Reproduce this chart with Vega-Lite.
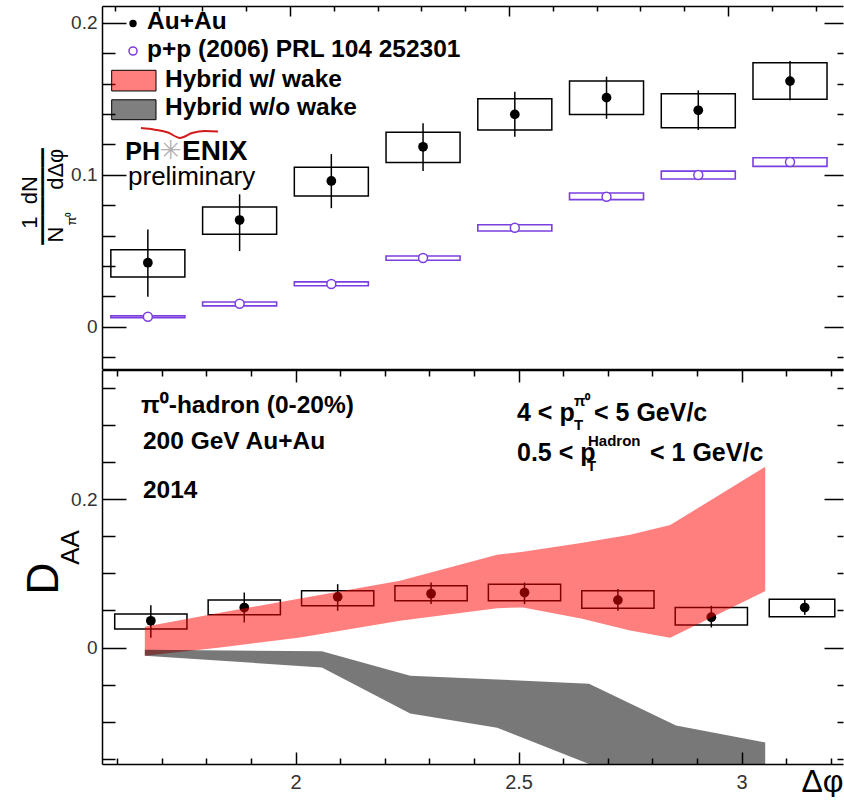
{
"$schema": "https://vega.github.io/schema/vega-lite/v6.json",
"padding": {"left": 18, "top": 5, "right": 0, "bottom": 0},
"spacing": 0,
"config": {
  "view": {"stroke": null},
  "axis": {"grid": false, "domainColor": "#000", "tickColor": "#000", "domainWidth": 1.5, "tickWidth": 1.5,
           "labelFont": "Liberation Sans", "labelFontSize": 19, "labelColor": "#333",
           "titleFont": "Liberation Sans", "titleColor": "#000", "titleFontWeight": "normal"}
},
"datasets": {
  "dummy": [{"x": 2, "y": 0}],
  "topAu": [
    {"x": 1.6755, "y": 0.0421, "elo": 0.0197, "ehi": 0.064, "blo": 0.0327, "bhi": 0.0507, "x1": 1.591, "x2": 1.76},
    {"x": 1.885, "y": 0.0702, "elo": 0.0498, "ehi": 0.0871, "blo": 0.0608, "bhi": 0.0788, "x1": 1.8005, "x2": 1.9695},
    {"x": 2.0944, "y": 0.0959, "elo": 0.078, "ehi": 0.1136, "blo": 0.086, "bhi": 0.105, "x1": 2.0099, "x2": 2.1789},
    {"x": 2.3038, "y": 0.1184, "elo": 0.1024, "ehi": 0.1338, "blo": 0.108, "bhi": 0.128, "x1": 2.2193, "x2": 2.3883},
    {"x": 2.5133, "y": 0.1397, "elo": 0.125, "ehi": 0.1546, "blo": 0.1294, "bhi": 0.15, "x1": 2.4288, "x2": 2.5978},
    {"x": 2.7227, "y": 0.1507, "elo": 0.1368, "ehi": 0.1645, "blo": 0.1397, "bhi": 0.1616, "x1": 2.6382, "x2": 2.8072},
    {"x": 2.9322, "y": 0.1424, "elo": 0.1294, "ehi": 0.1555, "blo": 0.1309, "bhi": 0.1533, "x1": 2.8477, "x2": 3.0167},
    {"x": 3.1416, "y": 0.1616, "elo": 0.149, "ehi": 0.1748, "blo": 0.1496, "bhi": 0.1737, "x1": 3.0571, "x2": 3.2261}
  ],
  "topPP": [
    {"x": 1.6755, "y": 0.0066, "blo": 0.006, "bhi": 0.0072, "x1": 1.591, "x2": 1.76},
    {"x": 1.885, "y": 0.0151, "blo": 0.0137, "bhi": 0.0163, "x1": 1.8005, "x2": 1.9695},
    {"x": 2.0944, "y": 0.0281, "blo": 0.027, "bhi": 0.0295, "x1": 2.0099, "x2": 2.1789},
    {"x": 2.3038, "y": 0.0452, "blo": 0.0437, "bhi": 0.0465, "x1": 2.2193, "x2": 2.3883},
    {"x": 2.5133, "y": 0.0651, "blo": 0.063, "bhi": 0.0671, "x1": 2.4288, "x2": 2.5978},
    {"x": 2.7227, "y": 0.0855, "blo": 0.0836, "bhi": 0.088, "x1": 2.6382, "x2": 2.8072},
    {"x": 2.9322, "y": 0.0998, "blo": 0.0972, "bhi": 0.1024, "x1": 2.8477, "x2": 3.0167},
    {"x": 3.1416, "y": 0.1084, "blo": 0.1055, "bhi": 0.1112, "x1": 3.0571, "x2": 3.2261}
  ],
  "botAu": [
    {"x": 1.6755, "y": 0.036, "elo": 0.013, "ehi": 0.057, "blo": 0.0248, "bhi": 0.045, "x1": 1.5945, "x2": 1.7565},
    {"x": 1.885, "y": 0.0539, "elo": 0.0337, "ehi": 0.0741, "blo": 0.044, "bhi": 0.0639, "x1": 1.804, "x2": 1.966},
    {"x": 2.0944, "y": 0.0683, "elo": 0.0495, "ehi": 0.0854, "blo": 0.0562, "bhi": 0.0764, "x1": 2.0134, "x2": 2.1754},
    {"x": 2.3038, "y": 0.0725, "elo": 0.0585, "ehi": 0.0876, "blo": 0.0629, "bhi": 0.0832, "x1": 2.2228, "x2": 2.3848},
    {"x": 2.5133, "y": 0.0741, "elo": 0.0585, "ehi": 0.0876, "blo": 0.0629, "bhi": 0.0854, "x1": 2.4323, "x2": 2.5943},
    {"x": 2.7227, "y": 0.0639, "elo": 0.0495, "ehi": 0.0787, "blo": 0.053, "bhi": 0.0764, "x1": 2.6417, "x2": 2.8037},
    {"x": 2.9322, "y": 0.0408, "elo": 0.027, "ehi": 0.0562, "blo": 0.0302, "bhi": 0.0539, "x1": 2.8512, "x2": 3.0132},
    {"x": 3.1416, "y": 0.0539, "elo": 0.044, "ehi": 0.064, "blo": 0.0414, "bhi": 0.0652, "x1": 3.062, "x2": 3.209}
  ],
  "red": [
    {"x": 1.662, "lo": -0.011, "hi": 0.028},
    {"x": 1.831, "lo": 0.0, "hi": 0.047},
    {"x": 2.01, "lo": 0.0135, "hi": 0.066},
    {"x": 2.234, "lo": 0.036, "hi": 0.09},
    {"x": 2.452, "lo": 0.053, "hi": 0.125},
    {"x": 2.51, "lo": 0.054, "hi": 0.129},
    {"x": 2.64, "lo": 0.039, "hi": 0.141},
    {"x": 2.75, "lo": 0.023, "hi": 0.152},
    {"x": 2.84, "lo": 0.013, "hi": 0.165},
    {"x": 3.053, "lo": 0.076, "hi": 0.2435}
  ],
  "gray": [
    {"x": 1.662, "lo": -0.011, "hi": -0.003},
    {"x": 2.059, "lo": -0.027, "hi": -0.005},
    {"x": 2.257, "lo": -0.089, "hi": -0.038},
    {"x": 2.452, "lo": -0.108, "hi": -0.043},
    {"x": 2.658, "lo": -0.157, "hi": -0.049},
    {"x": 2.853, "lo": -0.21, "hi": -0.105},
    {"x": 3.053, "lo": -0.25, "hi": -0.128}
  ],
  "legText": [
    {"x": 1.6735, "y": 0.2005, "t": "Au+Au"},
    {"x": 1.6735, "y": 0.182, "t": "p+p (2006) PRL 104 252301"},
    {"x": 1.7146, "y": 0.1623, "t": "Hybrid w/ wake"},
    {"x": 1.7146, "y": 0.1439, "t": "Hybrid w/o wake"}
  ],
  "arc": [
    {"x": 1.6598, "y": 0.1307, "o": 1},
    {"x": 1.6918, "y": 0.1296, "o": 2},
    {"x": 1.7215, "y": 0.1278, "o": 3},
    {"x": 1.7489, "y": 0.1242, "o": 4},
    {"x": 1.7763, "y": 0.1274, "o": 5},
    {"x": 1.806, "y": 0.1288, "o": 6},
    {"x": 1.8356, "y": 0.1284, "o": 7}
  ],
  "annLeft": [
    {"x": 1.6534, "y": 0.3257, "t": "π⁰-hadron (0-20%)"},
    {"x": 1.6579, "y": 0.2772, "t": "200 GeV Au+Au"},
    {"x": 1.6579, "y": 0.2111, "t": "2014"}
  ],
  "annBig": [
    {"x": 2.4965, "y": 0.3163, "t": "4 < p"},
    {"x": 2.6691, "y": 0.3163, "t": "< 5 GeV/c"},
    {"x": 2.4965, "y": 0.2624, "t": "0.5 < p"},
    {"x": 2.7947, "y": 0.2624, "t": "< 1 GeV/c"}
  ],
  "annSmall": [
    {"x": 2.6243, "y": 0.2995, "t": "T"},
    {"x": 2.6243, "y": 0.3325, "t": "π⁰"},
    {"x": 2.6534, "y": 0.2445, "t": "T"},
    {"x": 2.6557, "y": 0.2785, "t": "Hadron"}
  ]
},
"vconcat": [
{
  "width": 741, "height": 363,
  "resolve": {"axis": {"x": "independent", "y": "independent"}},
  "layer": [
    {"data": {"name": "dummy"}, "mark": {"type": "point", "opacity": 0},
     "encoding": {
       "x": {"field": "x", "type": "quantitative", "scale": {"domain": [1.5708, 3.2626], "nice": false, "zero": false},
             "axis": {"orient": "top", "values": [2, 2.5, 3], "tickSize": -10, "labels": false, "domain": true, "title": null}},
       "y": {"field": "y", "type": "quantitative", "scale": {"domain": [-0.0278, 0.211], "nice": false, "zero": false},
             "axis": {"orient": "left", "values": [0, 0.1, 0.2], "tickSize": -24, "labelPadding": 29, "format": ".1~f", "domain": true,
                      "title": "1\u00a0\u00a0dN", "titleX": -73, "titleY": 196, "titleAngle": -90, "titleAlign": "center", "titleBaseline": "middle", "titleFontSize": 22}}
     }},
    {"data": {"name": "dummy"}, "mark": {"type": "point", "opacity": 0},
     "encoding": {
       "x": {"field": "x", "type": "quantitative", "scale": {"domain": [1.5708, 3.2626], "nice": false, "zero": false},
             "axis": {"orient": "top", "values": [1.6, 1.7, 1.8, 1.9, 2.1, 2.2, 2.3, 2.4, 2.6, 2.7, 2.8, 2.9, 3.1, 3.2], "tickSize": -5, "labels": false, "domain": false, "title": null}},
       "y": {"field": "y", "type": "quantitative", "scale": {"domain": [-0.0278, 0.211], "nice": false, "zero": false},
             "axis": {"orient": "left", "values": [-0.02, 0.02, 0.04, 0.06, 0.08, 0.12, 0.14, 0.16, 0.18], "tickSize": -13, "labels": false, "domain": false,
                      "title": "━━━━━━━━━━", "titleFont": "DejaVu Sans", "titleColor": "#000", "titleX": -60, "titleY": 190, "titleAngle": -90, "titleAlign": "center", "titleBaseline": "middle", "titleFontSize": 16}}
     }},
    {"data": {"name": "dummy"}, "mark": {"type": "point", "opacity": 0},
     "encoding": {
       "x": {"field": "x", "type": "quantitative", "scale": {"domain": [1.5708, 3.2626], "nice": false, "zero": false},
             "axis": {"orient": "bottom", "ticks": false, "labels": false, "domain": true, "title": null}},
       "y": {"field": "y", "type": "quantitative", "scale": {"domain": [-0.0278, 0.211], "nice": false, "zero": false},
             "axis": {"orient": "right", "values": [0, 0.1, 0.2], "tickSize": -19, "labels": false, "domain": false, "title": null}}
     }},
    {"data": {"name": "dummy"}, "mark": {"type": "point", "opacity": 0},
     "encoding": {
       "x": {"field": "x", "type": "quantitative", "scale": {"domain": [1.5708, 3.2626], "nice": false, "zero": false}, "axis": null},
       "y": {"field": "y", "type": "quantitative", "scale": {"domain": [-0.0278, 0.211], "nice": false, "zero": false},
             "axis": {"orient": "right", "values": [-0.02, 0.02, 0.04, 0.06, 0.08, 0.12, 0.14, 0.16, 0.18], "tickSize": -6, "labels": false, "domain": false, "title": null}}
     }},
    {"data": {"name": "dummy"}, "mark": {"type": "point", "opacity": 0},
     "encoding": {
       "x": {"field": "x", "type": "quantitative", "scale": {"domain": [1.5708, 3.2626], "nice": false, "zero": false}, "axis": null},
       "y": {"field": "y", "type": "quantitative", "scale": {"domain": [-0.0278, 0.211], "nice": false, "zero": false},
             "axis": {"orient": "left", "ticks": false, "labels": false, "domain": false,
                      "title": "N\u00a0\u00a0\u00a0\u00a0\u00a0\u00a0dΔφ", "titleX": -47, "titleY": 189, "titleAngle": -90, "titleAlign": "center", "titleBaseline": "middle", "titleFontSize": 22}}
     }},
    {"data": {"name": "dummy"}, "mark": {"type": "point", "opacity": 0},
     "encoding": {
       "x": {"field": "x", "type": "quantitative", "scale": {"domain": [1.5708, 3.2626], "nice": false, "zero": false}, "axis": null},
       "y": {"field": "y", "type": "quantitative", "scale": {"domain": [-0.0278, 0.211], "nice": false, "zero": false},
             "axis": {"orient": "left", "ticks": false, "labels": false, "domain": false,
                      "title": "π⁰", "titleX": -31, "titleY": 212, "titleAngle": -90, "titleAlign": "center", "titleBaseline": "middle", "titleFontSize": 13}}
     }},
    {"mark": {"type": "rule", "strokeDash": [8, 5], "color": "#333", "strokeWidth": 1.3},
     "encoding": {"y": {"datum": 0, "type": "quantitative", "scale": {"domain": [-0.0278, 0.211], "nice": false, "zero": false}, "axis": null}}},
    {"data": {"name": "topAu"}, "mark": {"type": "rect", "filled": false, "color": "#000", "strokeWidth": 1.5},
     "encoding": {
       "x": {"field": "x1", "type": "quantitative", "scale": {"domain": [1.5708, 3.2626], "nice": false, "zero": false}, "axis": null},
       "x2": {"field": "x2"},
       "y": {"field": "blo", "type": "quantitative", "scale": {"domain": [-0.0278, 0.211], "nice": false, "zero": false}, "axis": null},
       "y2": {"field": "bhi"}}},
    {"data": {"name": "topAu"}, "mark": {"type": "rule", "color": "#000", "strokeWidth": 1.5},
     "encoding": {
       "x": {"field": "x", "type": "quantitative", "scale": {"domain": [1.5708, 3.2626], "nice": false, "zero": false}, "axis": null},
       "y": {"field": "elo", "type": "quantitative", "scale": {"domain": [-0.0278, 0.211], "nice": false, "zero": false}, "axis": null},
       "y2": {"field": "ehi"}}},
    {"data": {"name": "topAu"}, "mark": {"type": "point", "filled": true, "color": "#000", "size": 95, "opacity": 1},
     "encoding": {
       "x": {"field": "x", "type": "quantitative", "scale": {"domain": [1.5708, 3.2626], "nice": false, "zero": false}, "axis": null},
       "y": {"field": "y", "type": "quantitative", "scale": {"domain": [-0.0278, 0.211], "nice": false, "zero": false}, "axis": null}}},
    {"data": {"name": "topPP"}, "mark": {"type": "rect", "filled": false, "color": "#7b3fe0", "strokeWidth": 1.6},
     "encoding": {
       "x": {"field": "x1", "type": "quantitative", "scale": {"domain": [1.5708, 3.2626], "nice": false, "zero": false}, "axis": null},
       "x2": {"field": "x2"},
       "y": {"field": "blo", "type": "quantitative", "scale": {"domain": [-0.0278, 0.211], "nice": false, "zero": false}, "axis": null},
       "y2": {"field": "bhi"}}},
    {"data": {"name": "topPP"}, "mark": {"type": "point", "filled": false, "fill": "#fff", "fillOpacity": 1, "color": "#7b3fe0", "size": 80, "strokeWidth": 1.5, "opacity": 1},
     "encoding": {
       "x": {"field": "x", "type": "quantitative", "scale": {"domain": [1.5708, 3.2626], "nice": false, "zero": false}, "axis": null},
       "y": {"field": "y", "type": "quantitative", "scale": {"domain": [-0.0278, 0.211], "nice": false, "zero": false}, "axis": null}}},
    {"data": {"values": [{"x": 1.6416, "y": 0.1995}]}, "mark": {"type": "point", "filled": true, "color": "#000", "size": 55, "opacity": 1},
     "encoding": {
       "x": {"field": "x", "type": "quantitative", "scale": {"domain": [1.5708, 3.2626], "nice": false, "zero": false}, "axis": null},
       "y": {"field": "y", "type": "quantitative", "scale": {"domain": [-0.0278, 0.211], "nice": false, "zero": false}, "axis": null}}},
    {"data": {"values": [{"x": 1.6416, "y": 0.1814}]}, "mark": {"type": "point", "filled": false, "color": "#7b3fe0", "size": 65, "strokeWidth": 1.5, "opacity": 1},
     "encoding": {
       "x": {"field": "x", "type": "quantitative", "scale": {"domain": [1.5708, 3.2626], "nice": false, "zero": false}, "axis": null},
       "y": {"field": "y", "type": "quantitative", "scale": {"domain": [-0.0278, 0.211], "nice": false, "zero": false}, "axis": null}}},
    {"data": {"values": [{"x1": 1.5929, "x2": 1.6941, "y1": 0.1551, "y2": 0.1687}]}, "mark": {"type": "rect", "fill": "#ff0000", "fillOpacity": 0.5, "stroke": "#000", "strokeWidth": 1},
     "encoding": {
       "x": {"field": "x1", "type": "quantitative", "scale": {"domain": [1.5708, 3.2626], "nice": false, "zero": false}, "axis": null},
       "x2": {"field": "x2"},
       "y": {"field": "y1", "type": "quantitative", "scale": {"domain": [-0.0278, 0.211], "nice": false, "zero": false}, "axis": null},
       "y2": {"field": "y2"}}},
    {"data": {"values": [{"x1": 1.5929, "x2": 1.6941, "y1": 0.1362, "y2": 0.1493}]}, "mark": {"type": "rect", "fill": "#000", "fillOpacity": 0.5, "stroke": "#000", "strokeWidth": 1},
     "encoding": {
       "x": {"field": "x1", "type": "quantitative", "scale": {"domain": [1.5708, 3.2626], "nice": false, "zero": false}, "axis": null},
       "x2": {"field": "x2"},
       "y": {"field": "y1", "type": "quantitative", "scale": {"domain": [-0.0278, 0.211], "nice": false, "zero": false}, "axis": null},
       "y2": {"field": "y2"}}},
    {"data": {"name": "legText"}, "mark": {"type": "text", "align": "left", "baseline": "middle", "font": "Liberation Sans", "fontWeight": "bold", "fontSize": 24.5, "color": "#000"},
     "encoding": {
       "x": {"field": "x", "type": "quantitative", "scale": {"domain": [1.5708, 3.2626], "nice": false, "zero": false}, "axis": null},
       "y": {"field": "y", "type": "quantitative", "scale": {"domain": [-0.0278, 0.211], "nice": false, "zero": false}, "axis": null},
       "text": {"field": "t"}}},
    {"data": {"values": [{"x": 1.7032, "y": 0.1149, "t": "PH"}]}, "mark": {"type": "text", "align": "right", "baseline": "middle", "font": "Liberation Sans", "fontWeight": "bold", "fontSize": 25, "color": "#000"},
     "encoding": {
       "x": {"field": "x", "type": "quantitative", "scale": {"domain": [1.5708, 3.2626], "nice": false, "zero": false}, "axis": null},
       "y": {"field": "y", "type": "quantitative", "scale": {"domain": [-0.0278, 0.211], "nice": false, "zero": false}, "axis": null},
       "text": {"field": "t"}}},
    {"data": {"values": [{"x": 1.7535, "y": 0.1149, "t": "ENIX"}]}, "mark": {"type": "text", "align": "left", "baseline": "middle", "font": "Liberation Sans", "fontWeight": "bold", "fontSize": 28, "color": "#000"},
     "encoding": {
       "x": {"field": "x", "type": "quantitative", "scale": {"domain": [1.5708, 3.2626], "nice": false, "zero": false}, "axis": null},
       "y": {"field": "y", "type": "quantitative", "scale": {"domain": [-0.0278, 0.211], "nice": false, "zero": false}, "axis": null},
       "text": {"field": "t"}}},
    {"data": {"values": [{"x": 1.7283, "y": 0.1156, "t": "✳"}]}, "mark": {"type": "text", "align": "center", "baseline": "middle", "font": "DejaVu Sans", "fontSize": 26, "color": "#b0b0b0"},
     "encoding": {
       "x": {"field": "x", "type": "quantitative", "scale": {"domain": [1.5708, 3.2626], "nice": false, "zero": false}, "axis": null},
       "y": {"field": "y", "type": "quantitative", "scale": {"domain": [-0.0278, 0.211], "nice": false, "zero": false}, "axis": null},
       "text": {"field": "t"}}},
    {"data": {"values": [{"x": 1.6302, "y": 0.0985, "t": "preliminary"}]}, "mark": {"type": "text", "align": "left", "baseline": "middle", "font": "Liberation Sans", "fontSize": 26, "color": "#000"},
     "encoding": {
       "x": {"field": "x", "type": "quantitative", "scale": {"domain": [1.5708, 3.2626], "nice": false, "zero": false}, "axis": null},
       "y": {"field": "y", "type": "quantitative", "scale": {"domain": [-0.0278, 0.211], "nice": false, "zero": false}, "axis": null},
       "text": {"field": "t"}}},
    {"data": {"name": "arc"}, "mark": {"type": "line", "color": "#d41a1a", "strokeWidth": 2, "interpolate": "monotone"},
     "encoding": {
       "x": {"field": "x", "type": "quantitative", "scale": {"domain": [1.5708, 3.2626], "nice": false, "zero": false}, "axis": null},
       "y": {"field": "y", "type": "quantitative", "scale": {"domain": [-0.0278, 0.211], "nice": false, "zero": false}, "axis": null},
       "order": {"field": "o"}}}
  ]
},
{
  "width": 741, "height": 394,
  "resolve": {"axis": {"x": "independent", "y": "independent"}},
  "layer": [
    {"data": {"name": "dummy"}, "mark": {"type": "point", "opacity": 0},
     "encoding": {
       "x": {"field": "x", "type": "quantitative", "scale": {"domain": [1.566, 3.2274], "nice": false, "zero": false},
             "axis": {"orient": "bottom", "values": [2, 2.5, 3], "tickSize": -12, "labelPadding": 20, "labelFontSize": 20, "format": "~g", "domain": true,
                      "title": "Δφ", "titleX": 741, "titleY": 27, "titleAlign": "right", "titleBaseline": "alphabetic", "titleAngle": 0, "titleFontSize": 32}},
       "y": {"field": "y", "type": "quantitative", "scale": {"domain": [-0.157, 0.374], "nice": false, "zero": false},
             "axis": {"orient": "left", "values": [0, 0.2], "tickSize": -24, "labelPadding": 29, "format": ".1~f", "domain": true,
                      "title": "D", "titleX": -58, "titleY": 208, "titleAngle": -90, "titleAlign": "center", "titleBaseline": "middle", "titleFontSize": 44}}
     }},
    {"data": {"name": "dummy"}, "mark": {"type": "point", "opacity": 0},
     "encoding": {
       "x": {"field": "x", "type": "quantitative", "scale": {"domain": [1.566, 3.2274], "nice": false, "zero": false},
             "axis": {"orient": "bottom", "values": [1.6, 1.7, 1.8, 1.9, 2.1, 2.2, 2.3, 2.4, 2.6, 2.7, 2.8, 2.9, 3.1, 3.2], "tickSize": -6, "labels": false, "domain": false, "title": null}},
       "y": {"field": "y", "type": "quantitative", "scale": {"domain": [-0.157, 0.374], "nice": false, "zero": false},
             "axis": {"orient": "left", "values": [-0.15, -0.1, -0.05, 0.05, 0.1, 0.15, 0.25, 0.3, 0.35], "tickSize": -13, "labels": false, "domain": false,
                      "title": "AA", "titleX": -32, "titleY": 177, "titleAngle": -90, "titleAlign": "center", "titleBaseline": "middle", "titleFontSize": 26}}
     }},
    {"data": {"name": "dummy"}, "mark": {"type": "point", "opacity": 0},
     "encoding": {
       "x": {"field": "x", "type": "quantitative", "scale": {"domain": [1.566, 3.2274], "nice": false, "zero": false},
             "axis": {"orient": "top", "values": [2, 2.5, 3], "tickSize": -12, "labels": false, "domain": true, "title": null}},
       "y": {"field": "y", "type": "quantitative", "scale": {"domain": [-0.157, 0.374], "nice": false, "zero": false},
             "axis": {"orient": "right", "values": [0, 0.2], "tickSize": -19, "labels": false, "domain": false, "title": null}}
     }},
    {"data": {"name": "dummy"}, "mark": {"type": "point", "opacity": 0},
     "encoding": {
       "x": {"field": "x", "type": "quantitative", "scale": {"domain": [1.566, 3.2274], "nice": false, "zero": false},
             "axis": {"orient": "top", "values": [1.6, 1.7, 1.8, 1.9, 2.1, 2.2, 2.3, 2.4, 2.6, 2.7, 2.8, 2.9, 3.1, 3.2], "tickSize": -6, "labels": false, "domain": false, "title": null}},
       "y": {"field": "y", "type": "quantitative", "scale": {"domain": [-0.157, 0.374], "nice": false, "zero": false},
             "axis": {"orient": "right", "values": [-0.15, -0.1, -0.05, 0.05, 0.1, 0.15, 0.25, 0.3, 0.35], "tickSize": -6, "labels": false, "domain": false, "title": null}}
     }},
    {"mark": {"type": "rule", "strokeDash": [8, 5], "color": "#333", "strokeWidth": 1.3},
     "encoding": {"y": {"datum": 0, "type": "quantitative", "scale": {"domain": [-0.157, 0.374], "nice": false, "zero": false}, "axis": null}}},
    {"data": {"name": "botAu"}, "mark": {"type": "rect", "filled": false, "color": "#000", "strokeWidth": 1.5},
     "encoding": {
       "x": {"field": "x1", "type": "quantitative", "scale": {"domain": [1.566, 3.2274], "nice": false, "zero": false}, "axis": null},
       "x2": {"field": "x2"},
       "y": {"field": "blo", "type": "quantitative", "scale": {"domain": [-0.157, 0.374], "nice": false, "zero": false}, "axis": null},
       "y2": {"field": "bhi"}}},
    {"data": {"name": "botAu"}, "mark": {"type": "rule", "color": "#000", "strokeWidth": 1.5},
     "encoding": {
       "x": {"field": "x", "type": "quantitative", "scale": {"domain": [1.566, 3.2274], "nice": false, "zero": false}, "axis": null},
       "y": {"field": "elo", "type": "quantitative", "scale": {"domain": [-0.157, 0.374], "nice": false, "zero": false}, "axis": null},
       "y2": {"field": "ehi"}}},
    {"data": {"name": "botAu"}, "mark": {"type": "point", "filled": true, "color": "#000", "size": 95, "opacity": 1},
     "encoding": {
       "x": {"field": "x", "type": "quantitative", "scale": {"domain": [1.566, 3.2274], "nice": false, "zero": false}, "axis": null},
       "y": {"field": "y", "type": "quantitative", "scale": {"domain": [-0.157, 0.374], "nice": false, "zero": false}, "axis": null}}},
    {"data": {"name": "red"}, "mark": {"type": "area", "color": "#ff0000", "opacity": 0.5, "clip": true},
     "encoding": {
       "x": {"field": "x", "type": "quantitative", "scale": {"domain": [1.566, 3.2274], "nice": false, "zero": false}, "axis": null},
       "y": {"field": "lo", "type": "quantitative", "scale": {"domain": [-0.157, 0.374], "nice": false, "zero": false}, "axis": null},
       "y2": {"field": "hi"}}},
    {"data": {"name": "gray"}, "mark": {"type": "area", "color": "#000", "opacity": 0.53, "clip": true},
     "encoding": {
       "x": {"field": "x", "type": "quantitative", "scale": {"domain": [1.566, 3.2274], "nice": false, "zero": false}, "axis": null},
       "y": {"field": "lo", "type": "quantitative", "scale": {"domain": [-0.157, 0.374], "nice": false, "zero": false}, "axis": null},
       "y2": {"field": "hi"}}},
    {"data": {"name": "annLeft"}, "mark": {"type": "text", "align": "left", "baseline": "middle", "font": "Liberation Sans", "fontWeight": "bold", "fontSize": 24.5, "color": "#000"},
     "encoding": {
       "x": {"field": "x", "type": "quantitative", "scale": {"domain": [1.566, 3.2274], "nice": false, "zero": false}, "axis": null},
       "y": {"field": "y", "type": "quantitative", "scale": {"domain": [-0.157, 0.374], "nice": false, "zero": false}, "axis": null},
       "text": {"field": "t"}}},
    {"data": {"name": "annBig"}, "mark": {"type": "text", "align": "left", "baseline": "middle", "font": "Liberation Sans", "fontWeight": "bold", "fontSize": 25, "color": "#000"},
     "encoding": {
       "x": {"field": "x", "type": "quantitative", "scale": {"domain": [1.566, 3.2274], "nice": false, "zero": false}, "axis": null},
       "y": {"field": "y", "type": "quantitative", "scale": {"domain": [-0.157, 0.374], "nice": false, "zero": false}, "axis": null},
       "text": {"field": "t"}}},
    {"data": {"name": "annSmall"}, "mark": {"type": "text", "align": "left", "baseline": "middle", "font": "Liberation Sans", "fontWeight": "bold", "fontSize": 15, "color": "#000"},
     "encoding": {
       "x": {"field": "x", "type": "quantitative", "scale": {"domain": [1.566, 3.2274], "nice": false, "zero": false}, "axis": null},
       "y": {"field": "y", "type": "quantitative", "scale": {"domain": [-0.157, 0.374], "nice": false, "zero": false}, "axis": null},
       "text": {"field": "t"}}}
  ]
}
]
}
